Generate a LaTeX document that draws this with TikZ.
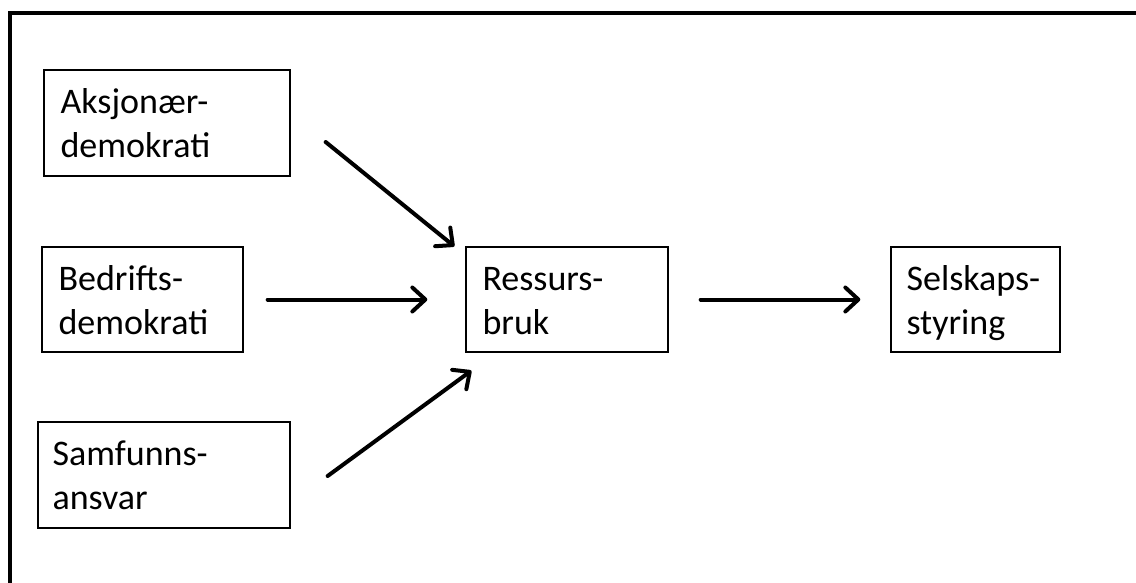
\documentclass[tikz,border=0pt]{standalone}
\usepackage{fontspec}
\setmainfont{Carlito}
\usetikzlibrary{arrows.meta,calc}
\begin{document}
\begin{tikzpicture}[x=1pt,y=-1pt,
  box/.style={draw=black,line width=1.3pt,rectangle,inner sep=0pt},
  lbl/.style={inner sep=0pt,anchor=base west,align=left,font=\fontsize{36}{44}\selectfont},
  arr/.style={line width=4pt,line cap=round,-{Straight Barb[length=13pt,width=24pt,line join=round,line cap=round]}},
  frame/.style={line width=4pt}]
\useasboundingbox (0,0) rectangle (1136,583);
\draw[frame] (10,13) rectangle (1300,800);
% boxes
\node[box,minimum width=246pt,minimum height=106pt] (A) at (167,123) {};
\node[box,minimum width=201pt,minimum height=105pt] (B) at (142.5,299.5) {};
\node[box,minimum width=252pt,minimum height=106pt] (S) at (164,475) {};
\node[box,minimum width=202pt,minimum height=105pt] (R) at (567,299.5) {};
\node[box,minimum width=169pt,minimum height=105pt] (G) at (975.5,299.5) {};
% labels
\node[lbl] (tA) at ($(A.north west)+(17,88)$) {Aksjonær-\\demokrati};
\node[lbl] (tB) at ($(B.north west)+(17,88)$) {Bedrifts-\\demokrati};
\node[lbl] (tS) at ($(S.north west)+(15,88)$) {Samfunns-\\ansvar};
\node[lbl] (tR) at ($(R.north west)+(17,88)$) {Ressurs-\\bruk};
\node[lbl] (tG) at ($(G.north west)+(16,88)$) {Selskaps-\\styring};
% connectors
\coordinate (a1) at ($(A.east)+(35,19)$);
\coordinate (a2) at ($(R.north west)+(-11,0)$);
\coordinate (b1) at ($(B.east)+(24,0)$);
\coordinate (b2) at ($(R.west)+(-38,0)$);
\coordinate (s1) at ($(S.east)+(37,1)$);
\coordinate (s2) at ($(R.south west)+(6,18)$);
\coordinate (r1) at ($(R.east)+(32,0)$);
\coordinate (r2) at ($(G.west)+(-30,0)$);
\draw[arr] (a1) -- (a2);
\draw[arr] (b1) -- (b2);
\draw[arr] (s1) -- (s2);
\draw[arr] (r1) -- (r2);
\end{tikzpicture}
\end{document}
